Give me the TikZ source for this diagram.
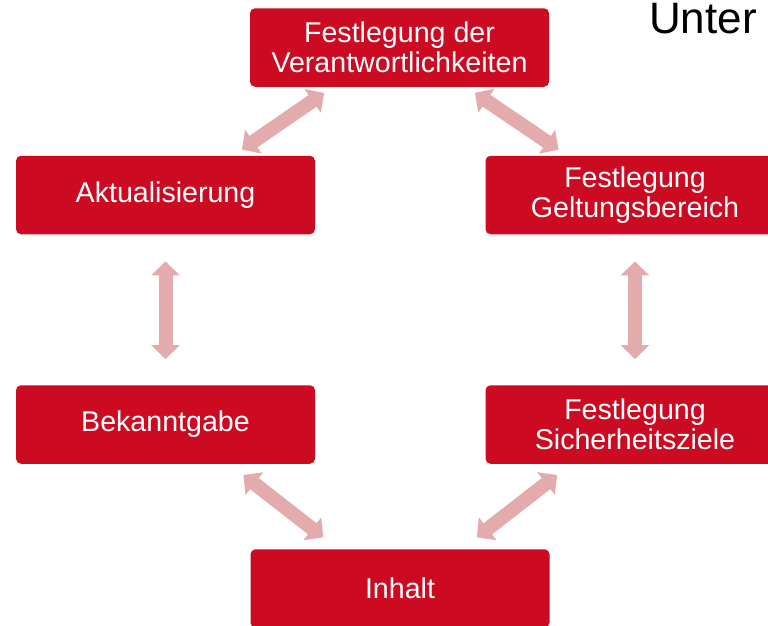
\documentclass[tikz,border=0pt]{standalone}
\usepackage{fontspec}
\setmainfont{Liberation Sans}
\usetikzlibrary{arrows.meta}
\definecolor{boxred}{HTML}{CC0A21}
\definecolor{arrowpink}{HTML}{E3ABAC}
\tikzset{
	phase/.style = {shape=rectangle, rounded corners=5pt, fill=boxred,
		draw=none, align=center, text=white, inner sep=0pt,
		minimum width=299pt, minimum height=78.5pt,
		font=\fontsize{28.6}{30}\selectfont},
	link/.style  = {draw=arrowpink, line width=14pt,
		{Triangle[length=14pt,width=28pt]}-{Triangle[length=14pt,width=28pt]}},
}

\begin{document}
\begin{tikzpicture}
	[x=1pt, y=-1pt]
	\useasboundingbox[clip] (0,0) rectangle (768,625);
	\node[phase] (verant) at (399.5,47.5) {Festlegung der\\Verantwortlichkeiten};
	\node[phase] (aktual) at (165.5,195) {Aktualisierung};
	\node[phase] (geltung) at (635,195) {Festlegung\\Geltungsbereich};
	\node[phase] (bekannt) at (165.5,424.5) {Bekanntgabe};
	\node[phase] (sicher) at (635,424.5) {Festlegung\\Sicherheitsziele};
	\node[phase] (inhalt) at (400,588.5) {Inhalt};
	\node[anchor=base west, inner sep=0pt, font=\fontsize{44}{48}\selectfont] (title) at (649,33) {Unter};
	
	\draw[link, shorten <=10.5pt, shorten >=10.5pt] ([xshift=-82pt]aktual.north east) -- ([xshift=83pt]verant.south west);
	\draw[link, shorten <=10.5pt, shorten >=10.5pt] ([xshift=-83pt]verant.south east) -- ([xshift=82pt]geltung.north west);
	\draw[link, shorten <=27pt, shorten >=26pt] (aktual.south) -- (bekannt.north);
	\draw[link, shorten <=27pt, shorten >=26pt] (geltung.south) -- (sicher.north);
	\draw[link, shorten <=18pt, shorten >=19pt] ([xshift=-86pt]bekannt.south east) -- ([xshift=88pt]inhalt.north west);
	\draw[link, shorten <=18pt, shorten >=19pt] ([xshift=86pt]sicher.south west) -- ([xshift=-88pt]inhalt.north east);
\end{tikzpicture}
\end{document}
